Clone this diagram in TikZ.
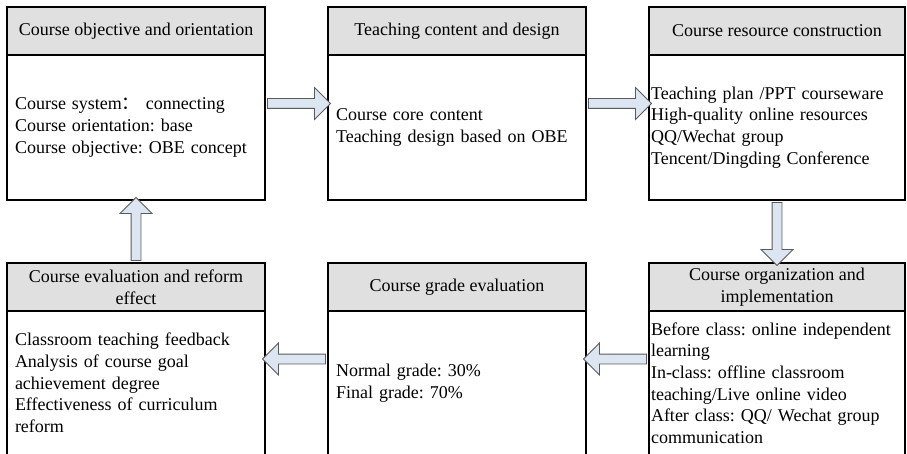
\documentclass[tikz,border=0pt]{standalone}
\usepackage{fontspec}
\setmainfont{Liberation Serif}
\newfontfamily\cjk{Noto Sans CJK SC}
\usepackage{tikz}
\usetikzlibrary{positioning,fit,shapes.arrows}
\definecolor{headgray}{RGB}{224,224,224}
\definecolor{arrowblue}{RGB}{220,230,242}
\definecolor{arrowline}{RGB}{90,90,90}
\frenchspacing

\begin{document}
\begin{tikzpicture}[x=1pt,y=-1pt,font=\fontsize{18}{21.7}\selectfont]
\path[use as bounding box,clip] (0,0) rectangle (907,454);
\begin{scope}[every node/.style={draw,line width=1.2pt,outer sep=0pt,fill=headgray,
              minimum width=258pt,minimum height=48pt,align=center}]
    \node (objhead) at (136,31) {Course objective and orientation};
    \node (conthead) at (457,31) {Teaching content and design};
    \node[minimum width=256pt] (reshead) at (777,31) {Course resource construction};
    \node (evalhead) at (136,287) {Course evaluation and reform\\effect};
    \node (gradehead) at (457,287) {Course grade evaluation};
    \node[minimum width=256pt] (orghead) at (777,287) {Course organization and\\implementation};
\end{scope}
\begin{scope}[every node/.style={draw,line width=1.2pt,outer sep=0pt,inner xsep=8pt,
              text width=242pt,align=left,minimum height=145pt}]
    \node[below=0pt of objhead] (objbody) {Course system{\cjk ：} connecting\\Course orientation: base\\Course objective: OBE concept};
    \node[below=0pt of conthead] (contbody) {Course core content\\Teaching design based on OBE};
    \node[below=0pt of reshead,inner xsep=2pt,text width=252pt] (resbody) {Teaching plan /PPT courseware\\High-quality online resources\\QQ/Wechat group\\Tencent/Dingding Conference};
    \node[below=0pt of evalhead,minimum height=144pt] (evalbody) {Classroom teaching feedback\\Analysis of course goal\\achievement degree\\Effectiveness of curriculum\\reform};
    \node[below=0pt of gradehead,minimum height=144pt] (gradebody) {Normal grade: 30\%\\Final grade: 70\%};
    \node[below=0pt of orghead,minimum height=144pt,inner xsep=2pt,text width=252pt] (orgbody) {Before class: online independent\\learning\\In-class: offline classroom\\teaching/Live online video\\After class: QQ/ Wechat group\\communication};
\end{scope}

% whole boxes
\begin{scope}[every node/.style={inner sep=0pt}]
    \node[fit=(objhead)(objbody)] (obj) {};
    \node[fit=(conthead)(contbody)] (cont) {};
    \node[fit=(reshead)(resbody)] (res) {};
    \node[fit=(evalhead)(evalbody)] (eval) {};
    \node[fit=(gradehead)(gradebody)] (grade) {};
    \node[fit=(orghead)(orgbody)] (org) {};
\end{scope}

\begin{scope}[every node/.style={single arrow,draw=arrowline,line width=0.8pt,fill=arrowblue,
              inner sep=4.5pt,minimum height=63pt,single arrow head extend=11pt,
              single arrow tip angle=90,sloped,allow upside down}]
    \path (obj) -- node {} (cont);
    \path (cont) -- node {} (res);
    \path (res) -- node {} (org);
    \path (org) -- node {} (grade);
    \path (grade) -- node {} (eval);
    \path (eval) -- node {} (obj);
\end{scope}

\end{tikzpicture}
\end{document}
